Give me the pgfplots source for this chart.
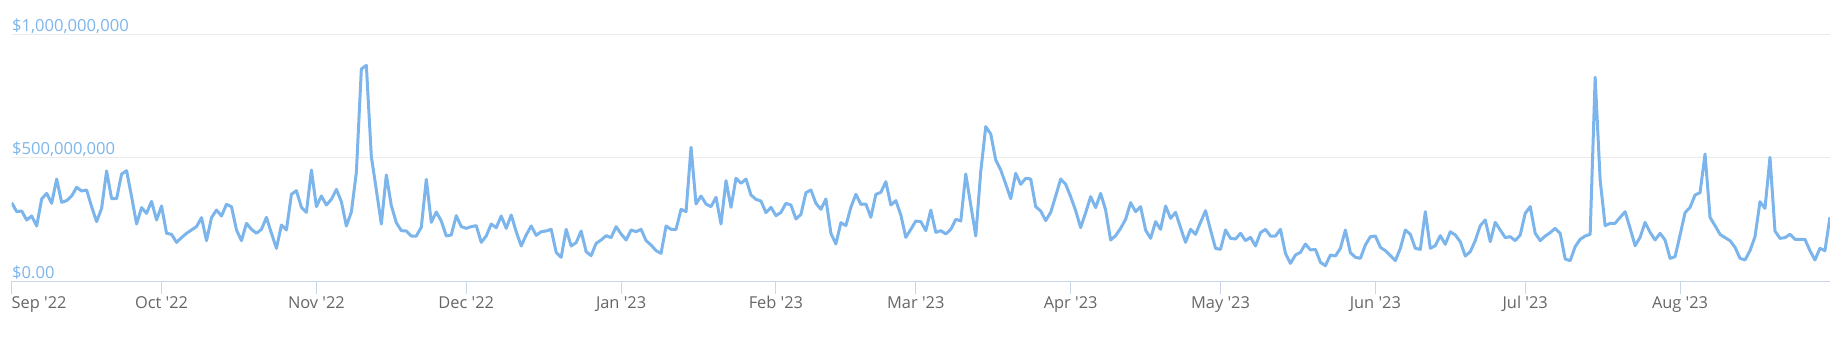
\documentclass[border=0pt]{standalone}
\usepackage{pgfplots}
\pgfplotsset{compat=1.18}
\usepackage{pgfplotstable}
\usepackage{fontspec}
\setmainfont{Open Sans}
\definecolor{series}{HTML}{7CB5EC}
\definecolor{axisc}{HTML}{CCD6EB}
\definecolor{gridc}{HTML}{EBEBEB}
\definecolor{lab}{HTML}{666666}
\pgfplotstableread{
d v
0 318.4
1 281.8
2 284.6
3 248.0
4 264.2
5 223.6
6 333.3
7 356.4
8 315.7
9 414.6
10 319.8
11 326.6
12 345.5
13 380.8
14 365.9
15 369.9
16 302.2
17 241.2
18 295.4
19 447.2
20 334.7
21 334.7
22 435.0
23 448.5
24 342.8
25 231.7
26 298.1
27 275.1
28 323.8
29 248.0
30 304.9
31 193.8
32 189.7
33 157.2
34 176.2
35 193.8
36 207.3
37 220.9
38 257.5
39 164.0
40 257.5
41 288.6
42 264.2
43 311.7
44 302.2
45 207.3
46 164.0
47 234.4
48 210.0
49 193.8
50 210.0
51 258.8
52 193.8
53 132.8
54 227.6
55 207.3
56 352.3
57 367.2
58 299.5
59 279.1
60 451.2
61 302.2
62 345.5
63 308.9
64 332.0
65 372.6
66 322.5
67 223.6
68 280.5
69 441.7
70 861.8
71 876.7
72 505.4
73 369.9
74 231.7
75 430.9
76 306.2
77 237.1
78 204.6
79 203.3
80 182.9
81 182.9
82 218.2
83 413.3
84 238.5
85 280.5
86 243.9
87 182.9
88 187.0
89 265.6
90 220.9
91 214.1
92 220.9
93 224.9
94 157.2
95 182.9
96 231.7
97 216.8
98 264.2
99 214.1
100 268.3
101 200.5
102 142.3
103 187.0
104 223.6
105 185.6
106 200.5
107 203.3
108 210.0
109 116.5
110 96.2
111 210.0
112 142.3
113 155.8
114 203.3
115 119.2
116 103.0
117 153.1
118 166.7
119 184.3
120 176.2
121 220.9
122 191.1
123 166.7
124 207.3
125 200.5
126 210.0
127 164.0
128 146.3
129 123.3
130 112.5
131 223.6
132 210.0
133 210.0
134 291.3
135 281.8
136 543.4
137 313.0
138 345.5
139 313.0
140 302.2
141 340.1
142 231.7
143 407.9
144 299.5
145 417.3
146 397.0
147 414.6
148 349.6
149 332.0
150 325.2
151 277.8
152 299.5
153 265.6
154 279.1
155 315.7
156 308.9
157 252.0
158 271.0
159 359.1
160 369.9
161 315.7
162 291.3
163 333.3
164 193.8
165 150.4
166 237.1
167 224.9
168 299.5
169 352.3
170 311.7
171 313.0
172 258.8
173 352.3
174 360.4
175 403.8
176 308.9
177 326.6
178 268.3
179 177.5
180 210.0
181 243.9
182 241.2
183 204.6
184 288.6
185 197.8
186 204.6
187 191.1
188 210.0
189 250.7
190 243.9
191 435.0
192 308.9
193 182.9
194 444.4
195 627.4
196 597.6
197 491.9
198 451.2
199 394.3
200 334.7
201 437.7
202 393.0
203 417.3
204 414.6
205 302.2
206 284.6
207 245.3
208 279.1
209 345.5
210 414.6
211 393.0
212 342.8
213 285.9
214 216.8
215 277.8
216 342.8
217 298.1
218 356.4
219 288.6
220 166.7
221 184.3
222 214.1
223 250.7
224 318.4
225 281.8
226 302.2
227 207.3
228 173.4
229 241.2
230 210.0
231 304.9
232 254.7
233 279.1
234 216.8
235 157.2
236 210.0
237 189.7
238 238.5
239 285.9
240 207.3
241 132.8
242 128.7
243 207.3
244 173.4
245 170.7
246 193.8
247 164.0
248 177.5
249 142.3
250 196.5
251 210.0
252 182.9
253 182.9
254 210.0
255 112.5
256 71.8
257 105.7
258 116.5
259 150.4
260 126.0
261 128.7
262 75.9
263 62.3
264 105.7
265 101.6
266 132.8
267 207.3
268 115.2
269 96.2
270 92.1
271 146.3
272 180.2
273 182.9
274 136.9
275 123.3
276 103.0
277 82.7
278 132.8
279 207.3
280 189.7
281 132.8
282 128.7
283 281.8
284 132.8
285 143.6
286 184.3
287 149.1
288 200.5
289 187.0
290 159.9
291 101.6
292 119.2
293 164.0
294 224.9
295 248.0
296 159.9
297 238.5
298 207.3
299 176.2
300 180.2
301 164.0
302 187.0
303 275.1
304 302.2
305 193.8
306 164.0
307 182.9
308 196.5
309 214.1
310 193.8
311 89.4
312 82.7
313 139.6
314 169.4
315 182.9
316 189.7
317 827.9
318 410.6
319 224.9
320 234.4
321 234.4
322 258.8
323 281.8
324 214.1
325 143.6
326 177.5
327 238.5
328 197.8
329 166.7
330 193.8
331 166.7
332 92.1
333 98.9
334 187.0
335 277.8
336 299.5
337 349.6
338 359.1
339 516.3
340 258.8
341 224.9
342 189.7
343 176.2
344 164.0
345 136.9
346 92.1
347 85.4
348 123.3
349 180.2
350 322.5
351 295.4
352 502.7
353 203.3
354 173.4
355 176.2
356 189.7
357 169.4
358 169.4
359 169.4
360 123.3
361 85.4
362 132.8
363 123.3
364 258.8
}\datatable
\begin{document}
\begin{tikzpicture}
\begin{axis}[
  scale only axis,
  width=909.1pt, height=123pt,
  xmin=0, xmax=364, ymin=0, ymax=1000,
  axis x line*=bottom, axis y line*=left,
  x axis line style={draw=axisc, line width=0.5pt},
  y axis line style={draw=none},
  xtick={0,30,61,91,122,153,181,212,242,273,303,334},
  xticklabels={{\makebox[0pt][l]{Sep \textquotesingle22}},Oct \textquotesingle22,Nov \textquotesingle22,Dec \textquotesingle22,Jan \textquotesingle23,Feb \textquotesingle23,Mar \textquotesingle23,Apr \textquotesingle23,May \textquotesingle23,Jun \textquotesingle23,Jul \textquotesingle23,Aug \textquotesingle23},
  ytick={0,500,1000},
  yticklabels={{\$0.00},{\$500,000,000},{\$1,000,000,000}},
  tick align=outside,
  major tick length=6.5pt,
  x tick style={draw=axisc, line width=0.5pt},
  y tick style={draw=none},
  ymajorgrids,
  grid style={draw=gridc, line width=0.5pt},
  xticklabel style={font=\fontsize{8.2}{10}\selectfont, text=lab, anchor=base, inner sep=0pt, yshift=-7pt},
  yticklabel style={font=\fontsize{8.3}{10}\selectfont, text=series, anchor=base west, inner sep=0pt, xshift=6.5pt, yshift=1.5pt},
]
\addplot[series, line width=1.5pt, line join=round, mark=none] table[x=d, y=v] {\datatable};
\coordinate (ll) at (rel axis cs:0,0);
\coordinate (ur) at (rel axis cs:1,1);
\end{axis}
\pgfresetboundingbox
\path ([xshift=-5.85pt,yshift=-28pt]ll) rectangle ([xshift=2.05pt,yshift=17.5pt]ur);
\end{tikzpicture}
\end{document}
